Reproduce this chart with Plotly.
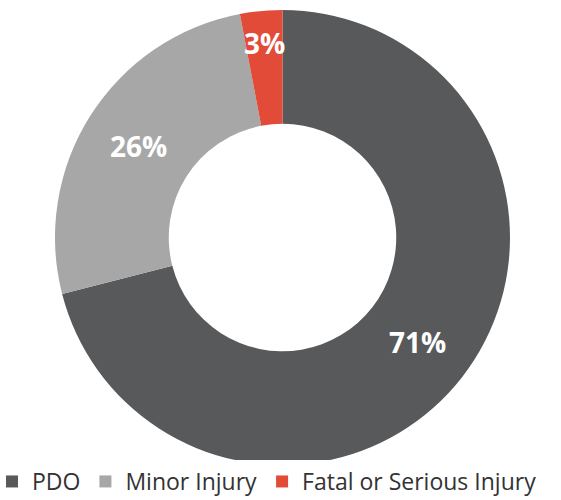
import math
import plotly.graph_objects as go

categories = ["PDO", "Minor Injury", "Fatal or Serious Injury"]
values = [71, 26, 3]
label_text = ["71%", "26%", "3%"]
colors = ["#58595B", "#A7A7A7", "#E24B37"]

W, H = 561, 500
margin = dict(l=4, r=0, t=10, b=35, autoexpand=False)
hole = 0.5

fig = go.Figure(go.Pie(
    labels=categories,
    values=values,
    hole=hole,
    sort=False,
    direction="clockwise",
    rotation=0,
    marker=dict(colors=colors, line=dict(width=0)),
    textinfo="none",
    hoverinfo="label+percent",
    domain=dict(x=[0, 1], y=[0, 1]),
))

# label positions computed from the data (angle of each slice's bisector)
pw = W - margin["l"] - margin["r"]
ph = H - margin["t"] - margin["b"]
R = min(pw, ph) / 2
total = sum(values)
cum = 0
radial = [0.75, 0.75, 0.86]  # fraction of outer radius
for v, t, rf in zip(values, label_text, radial):
    mid = (cum + v / 2) / total * 2 * math.pi
    cum += v
    dx = math.sin(mid) * rf
    dy = math.cos(mid) * rf
    fig.add_annotation(
        x=0.5 + dx * R / pw, y=0.5 + dy * R / ph,
        xref="paper", yref="paper",
        xanchor="center", yanchor="middle",
        text=t, showarrow=False,
        font=dict(family="Open Sans", size=28, color="white", weight="bold"),
    )

fig.update_layout(
    width=W, height=H,
    margin=margin,
    paper_bgcolor="white",
    plot_bgcolor="white",
    font=dict(family="Open Sans", color="#333333"),
    showlegend=True,
    legend=dict(
        orientation="h",
        x=-12 / pw, xanchor="left",
        y=-38 / ph, yanchor="bottom",
        font=dict(family="Open Sans", size=23, color="#333333"),
        traceorder="normal",
    ),
)

fig.write_html("out.html", config={"displayModeBar": False},
               post_script="document.body.style.margin='0';")
